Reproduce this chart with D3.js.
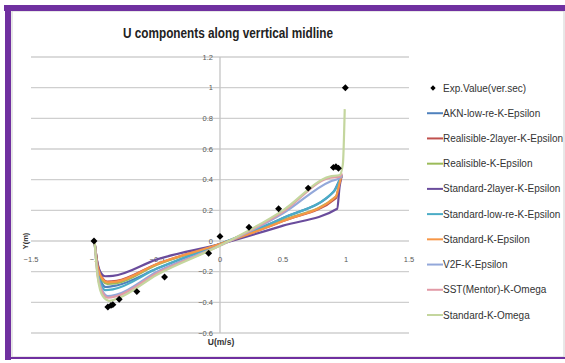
<!DOCTYPE html>
<html>
<head>
<meta charset="utf-8">
<script src="https://cdn.jsdelivr.net/npm/d3@7"></script>
<style>
  body { margin: 0; background: #fff; }
  svg { display: block; }
  text { font-family: "Liberation Sans Narrow", "Liberation Sans", Arial, sans-serif; }
</style>
</head>
<body>
<svg id="chart" width="565" height="363"></svg>
<script>
// tick values
var xTicks = [-1.5, -1, -0.5, 0, 0.5, 1, 1.5];
var yTicks = [-0.6, -0.4, -0.2, 0, 0.2, 0.4, 0.6, 0.8, 1, 1.2];

// experimental points (ver.sec)
var expU = [-1, -0.89, -0.865, -0.85, -0.80, -0.66, -0.44, -0.09, 0, 0.23, 0.465, 0.70, 0.90, 0.92, 0.94, 0.995];
var expY = [0, -0.43, -0.42, -0.415, -0.38, -0.33, -0.235, -0.08, 0.03, 0.09, 0.21, 0.345, 0.48, 0.485, 0.475, 1.0];

// model curves, [U, Y] pairs
var aknLowRe = [[-0.995, -0.01], [-0.97, -0.18], [-0.94, -0.27], [-0.905, -0.30], [-0.82, -0.29], [-0.5, -0.18], [0, -0.02], [0.5, 0.15], [0.9, 0.32], [0.95, 0.40], [0.97, 0.43]];
var realisible2layer = [[-0.995, -0.01], [-0.97, -0.16], [-0.93, -0.245], [-0.895, -0.265], [-0.82, -0.26], [-0.5, -0.15], [0, -0.02], [0.5, 0.13], [0.92, 0.28], [0.95, 0.38], [0.965, 0.43]];
var realisibleKEps = [[-0.995, -0.01], [-0.97, -0.17], [-0.93, -0.26], [-0.895, -0.28], [-0.82, -0.275], [-0.5, -0.155], [0, -0.02], [0.5, 0.135], [0.92, 0.29], [0.95, 0.38], [0.965, 0.43]];
var standard2layer = [[-0.995, -0.01], [-0.975, -0.13], [-0.95, -0.2], [-0.91, -0.23], [-0.85, -0.228], [-0.5, -0.12], [0, -0.02], [0.5, 0.1], [0.93, 0.21], [0.95, 0.36], [0.965, 0.42]];
var standardLowRe = [[-0.995, -0.01], [-0.97, -0.2], [-0.94, -0.29], [-0.91, -0.32], [-0.85, -0.315], [-0.5, -0.18], [0, -0.02], [0.5, 0.15], [0.91, 0.33], [0.95, 0.40], [0.965, 0.43]];
var standardKEps = [[-0.995, -0.01], [-0.97, -0.17], [-0.93, -0.25], [-0.89, -0.27], [-0.82, -0.265], [-0.5, -0.15], [0, -0.02], [0.5, 0.13], [0.92, 0.29], [0.95, 0.38], [0.965, 0.43]];
var v2fKEps = [[-0.995, -0.01], [-0.97, -0.22], [-0.93, -0.33], [-0.89, -0.36], [-0.82, -0.35], [-0.5, -0.2], [0, -0.03], [0.5, 0.18], [0.88, 0.39], [0.95, 0.41], [0.97, 0.43]];
var sstKOmega = [[-0.995, -0.01], [-0.97, -0.23], [-0.93, -0.34], [-0.89, -0.37], [-0.82, -0.36], [-0.5, -0.21], [0, -0.03], [0.5, 0.19], [0.86, 0.41], [0.95, 0.42], [0.97, 0.44]];
var standardKOmega = [[-0.995, -0.01], [-0.97, -0.24], [-0.93, -0.36], [-0.88, -0.39], [-0.8, -0.37], [-0.5, -0.22], [0, -0.03], [0.5, 0.2], [0.87, 0.42], [0.95, 0.43], [0.975, 0.5], [0.99, 0.86]];

var seriesNames = ["AKN-low-re-K-Epsilon", "Realisible-2layer-K-Epsilon", "Realisible-K-Epsilon",
  "Standard-2layer-K-Epsilon", "Standard-low-re-K-Epsilon", "Standard-K-Epsilon",
  "V2F-K-Epsilon", "SST(Mentor)-K-Omega", "Standard-K-Omega"];
var seriesData = [aknLowRe, realisible2layer, realisibleKEps, standard2layer, standardLowRe,
  standardKEps, v2fKEps, sstKOmega, standardKOmega];
var expName = "Exp.Value(ver.sec)";

var colors = ["#4F81BD", "#C0504D", "#9BBB59", "#6A4C9C", "#4BACC6", "#F79646", "#93A8DA", "#E29AA6", "#C4D69E"];

var svg = d3.select("#chart");

// frame
svg.append("rect").attr("x", 12).attr("y", 11).attr("width", 552).attr("height", 346)
  .attr("fill", "#fff").attr("stroke", "#d0d0d0").attr("stroke-width", 1);
svg.append("rect").attr("x", 4).attr("y", 5).attr("width", 561).attr("height", 6).attr("fill", "#7030A0");
svg.append("rect").attr("x", 5).attr("y", 5).attr("width", 6).attr("height", 355).attr("fill", "#7030A0");
svg.append("rect").attr("x", 5).attr("y", 357).attr("width", 560).attr("height", 2).attr("fill", "#7030A0");

var x = d3.scaleLinear().domain([-1.5, 1.5]).range([31, 409]);
var y = d3.scaleLinear().domain([-0.6, 1.2]).range([333, 57]);

// title
svg.append("text").attr("x", 228).attr("y", 38).attr("text-anchor", "middle")
  .attr("font-size", 14).attr("font-weight", "bold").attr("fill", "#222")
  .attr("textLength", 210).attr("lengthAdjust", "spacingAndGlyphs")
  .text("U components along verrtical midline");

// gridlines
svg.append("g").selectAll("line").data(yTicks).enter().append("line")
  .attr("x1", x(-1.5)).attr("x2", x(1.5))
  .attr("y1", d => y(d)).attr("y2", d => y(d))
  .attr("stroke", "#cfcfcf").attr("stroke-width", 1.3);

// y axis at U = 0
svg.append("line").attr("x1", x(0)).attr("x2", x(0)).attr("y1", y(1.2)).attr("y2", y(-0.6))
  .attr("stroke", "#c4c4c4").attr("stroke-width", 1.3);

// y tick labels
svg.append("g").selectAll("text").data(yTicks).enter().append("text")
  .attr("x", x(0) - 7).attr("y", d => y(d) + 2.5).attr("text-anchor", "end")
  .attr("font-size", 7.5).attr("fill", "#595959")
  .text(d => d3.format("")(+d.toFixed(1)));

// x tick labels
svg.append("g").selectAll("text").data(xTicks).enter().append("text")
  .attr("x", d => x(d)).attr("y", y(0) + 21).attr("text-anchor", "middle")
  .attr("font-size", 7.5).attr("fill", "#595959")
  .text(d => d3.format("")(d));

// axis titles
svg.append("text").attr("transform", "translate(28," + y(0) + ") rotate(-90)")
  .attr("text-anchor", "middle").attr("font-size", 7.5).attr("font-weight", "bold").attr("fill", "#333")
  .text("Y(m)");
svg.append("text").attr("x", 221).attr("y", 345).attr("text-anchor", "middle")
  .attr("font-size", 8.5).attr("font-weight", "bold").attr("fill", "#333")
  .text("U(m/s)");

// model curves (U increases along each one, so monotone-x keeps the corners tight)
var line = d3.line().x(d => x(d[0])).y(d => y(d[1])).curve(d3.curveMonotoneX);
svg.append("g").selectAll("path").data(seriesData).enter().append("path")
  .attr("d", line).attr("fill", "none")
  .attr("stroke", (d, i) => colors[i]).attr("stroke-width", 2.2)
  .attr("stroke-linejoin", "round");

// experimental diamonds (square turned 45 deg)
var diamond = d3.symbol().type(d3.symbolSquare).size(24);
svg.append("g").selectAll("path").data(expU).enter().append("path")
  .attr("transform", (d, i) => "translate(" + x(d) + "," + y(expY[i]) + ") rotate(45)")
  .attr("d", diamond).attr("fill", "#000");

// legend
var legY = d3.scaleLinear().domain([0, 9]).range([88, 315]);
var leg = svg.append("g");
leg.append("path").attr("transform", "translate(433," + legY(0) + ") rotate(45)")
  .attr("d", d3.symbol().type(d3.symbolSquare).size(14)).attr("fill", "#000");
leg.append("text").attr("x", 443).attr("y", legY(0) + 3.5).attr("font-size", 10).attr("fill", "#333").text(expName);
leg.selectAll("line").data(seriesNames).enter().append("line")
  .attr("x1", 427).attr("x2", 443)
  .attr("y1", (d, i) => legY(i + 1)).attr("y2", (d, i) => legY(i + 1))
  .attr("stroke", (d, i) => colors[i]).attr("stroke-width", 2);
leg.selectAll("text.s").data(seriesNames).enter().append("text").attr("class", "s")
  .attr("x", 443).attr("y", (d, i) => legY(i + 1) + 3.5)
  .attr("font-size", 10).attr("fill", "#333").text(d => d);
</script>
</body>
</html>
